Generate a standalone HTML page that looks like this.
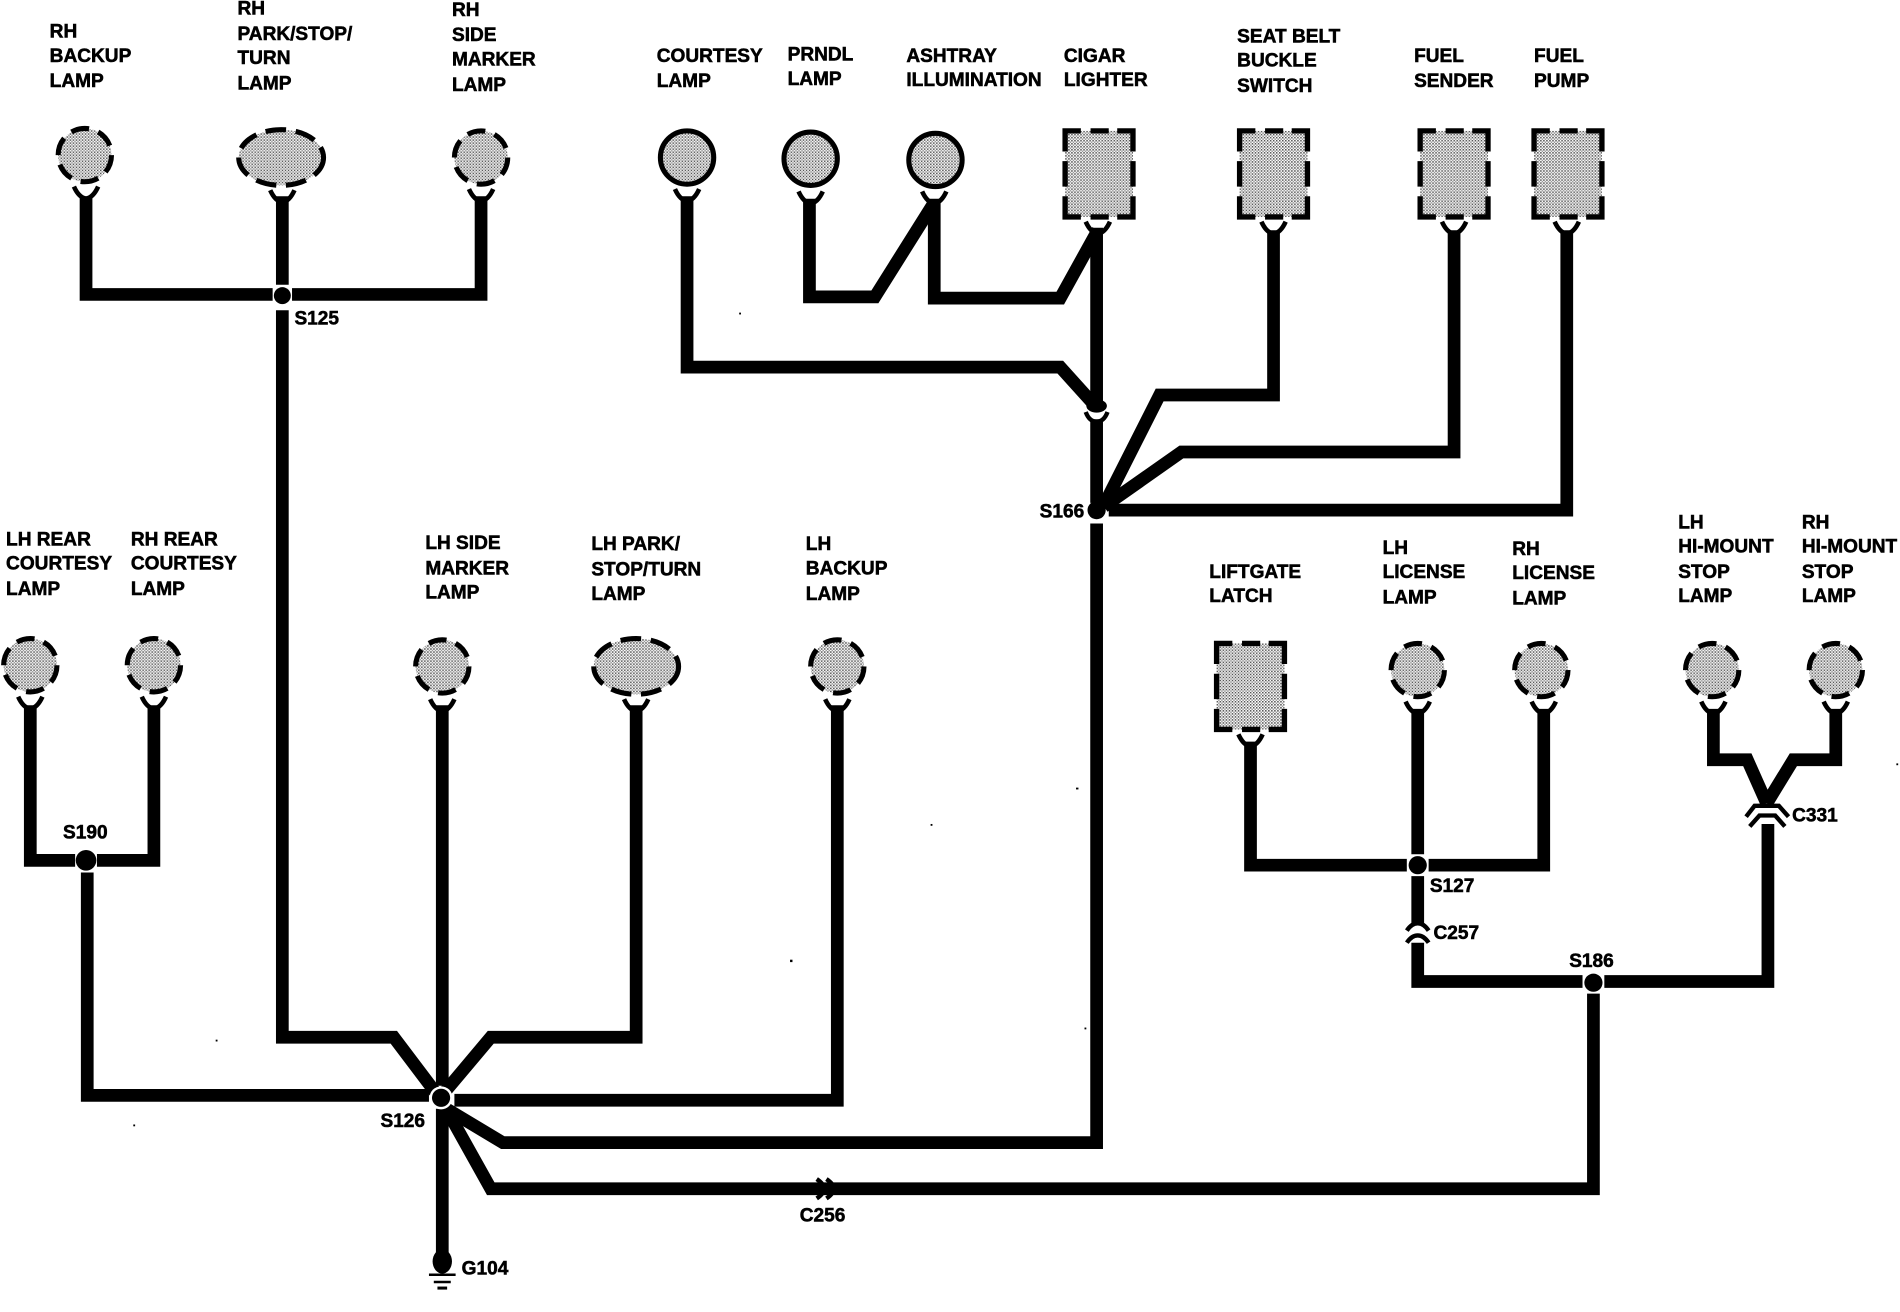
<!DOCTYPE html>
<html><head><meta charset="utf-8"><style>
html,body{margin:0;padding:0;background:#fff;width:1900px;height:1312px;overflow:hidden}
svg{display:block}
text{font-family:"Liberation Sans",sans-serif;font-weight:700;font-size:15.75px;fill:#000;stroke:#000;stroke-width:.45}
</style></head><body>
<svg xmlns="http://www.w3.org/2000/svg" width="1900" height="1312" viewBox="0 0 1568 1082.75">
<defs>
<pattern id="d" width="2.5" height="2.5" patternUnits="userSpaceOnUse">
<rect width="2.5" height="2.5" fill="#fff"/><rect width="1.25" height="1.25" fill="#555"/><rect x="1.25" y="1.25" width="1.25" height="1.25" fill="#999"/>
</pattern>
<path id="u" d="M-10,0 Q-6,9 0,10 Q6,9 10,0" fill="none" stroke="#000" stroke-width="3.8"/>
<g id="r">
<rect width="56" height="71" fill="url(#d)"/>
<path d="M0,17V0H13M21,0H36M43,0H56V17M56,25V46M56,54V71H43M36,71H21M13,71H0V54M0,46V25" fill="none" stroke="#000" stroke-width="4.4"/>
</g>
</defs>
<rect width="1568" height="1083" fill="#fff"/>

<g fill="url(#d)" stroke="#000" stroke-width="4.2" stroke-dasharray="15 8">
<circle cx="70" cy="128" r="22"/><circle cx="397" cy="130" r="22"/>
<circle cx="25" cy="549" r="22"/><circle cx="127" cy="549" r="22"/>
<circle cx="365" cy="550" r="22"/><circle cx="691" cy="550" r="22"/>
<circle cx="1170" cy="553" r="22"/><circle cx="1272" cy="553" r="22"/>
<circle cx="1413" cy="553" r="22"/><circle cx="1515" cy="553" r="22"/>
<ellipse cx="232" cy="130" rx="35" ry="23" stroke-dasharray="17 8"/><ellipse cx="525" cy="550" rx="35" ry="23" stroke-dasharray="17 8"/>
</g>
<use href="#r" x="879" y="108"/><use href="#r" x="1023" y="108"/><use href="#r" x="1172" y="108"/><use href="#r" x="1266" y="108"/><use href="#r" x="1004" y="531"/>
<g fill="url(#d)" stroke="#000" stroke-width="4.2">
<circle cx="567" cy="130" r="22"/><circle cx="669" cy="131" r="22"/><circle cx="772" cy="132" r="22"/>
</g>

<use href="#u" x="71" y="154"/><use href="#u" x="233" y="157"/><use href="#u" x="397" y="156"/>
<use href="#u" x="567" y="156"/><use href="#u" x="669" y="158"/><use href="#u" x="771" y="158"/>
<use href="#u" x="906" y="183"/><use href="#u" x="1051" y="183"/><use href="#u" x="1200" y="183"/><use href="#u" x="1293" y="183"/>
<use href="#u" x="25" y="575"/><use href="#u" x="127" y="575"/><use href="#u" x="365" y="577"/><use href="#u" x="525" y="577"/><use href="#u" x="691" y="577"/>
<use href="#u" x="1032" y="606"/><use href="#u" x="1170" y="579"/><use href="#u" x="1274" y="579"/><use href="#u" x="1414" y="579"/><use href="#u" x="1515" y="579"/>

<g fill="none" stroke="#000" stroke-width="10.5" stroke-linejoin="miter">
<path d="M71,162V243H225M241,243H397V162"/>
<path d="M233,162V235M233,256V856H325L362,905"/>
<path d="M567,162V303H875L903,334"/>
<path d="M668,164V245H722L771,167"/>
<path d="M771,164V246H875L906,190"/>
<path d="M905,188V334M905,346V415"/>
<path d="M1051,190V326H957L911,417"/>
<path d="M1200,190V373H975L911,418"/>
<path d="M1293,190V421H915"/>
<path d="M905,432V943H415L365,913"/>
<path d="M367,913L405,981H1315V820"/>
<path d="M25,582V710H62M80,710H127V582"/>
<path d="M72,720V904H354"/>
<path d="M365,582V896"/>
<path d="M525,582V856H405L368,900"/>
<path d="M691,582V908H375"/>
<path d="M365,915V1040"/>
<path d="M1032,612V714H1161M1179,714H1274V585"/>
<path d="M1170,585V705M1170,723V762M1170,778V810H1306M1324,810H1459V680"/>
<path d="M1414,585V627H1442L1458,663M1515,585V627H1480L1458,663"/>
</g>

<circle cx="233" cy="244" r="7"/>
<circle cx="905" cy="421" r="7.5"/>
<circle cx="71" cy="710" r="8.5"/>
<circle cx="364" cy="906" r="9.5" fill="#fff"/><circle cx="364" cy="906" r="7.5"/>
<circle cx="1170" cy="714" r="7.5"/>
<circle cx="1315" cy="811" r="7.5"/>

<ellipse cx="905" cy="335" rx="8.5" ry="5.5"/>
<g fill="none" stroke="#000" stroke-width="3.6">
<path d="M896,340Q899,348 905,348Q911,348 914,340"/>
<path d="M1161,768Q1165,762 1170,762Q1175,762 1179,768"/>
<path d="M1161,778Q1165,772 1170,772Q1175,772 1179,778"/>
<path d="M1441,674L1448,665H1468L1476,674"/>
<path d="M1444,682L1452,673H1465L1473,682"/>
<path d="M674,973Q680,977 680,981Q680,985 674,989"/>
<path d="M682,973Q688,977 688,981Q688,985 682,989"/>
</g>
<ellipse cx="365" cy="1041" rx="8" ry="10"/>
<g stroke="#000" stroke-width="2"><path d="M354,1052H376M358,1058H372"/><path d="M361,1063H369" stroke-width="2.5"/></g>
<g><rect x="610" y="258" width="1.5" height="1.5"/><rect x="652" y="792" width="2" height="2"/><rect x="178" y="858" width="1.5" height="1.5"/><rect x="110" y="928" width="1.5" height="1.5"/><rect x="768" y="680" width="1.5" height="1.5"/><rect x="888" y="650" width="2" height="1.5"/><rect x="1565" y="630" width="1.5" height="1.5"/><rect x="895" y="848" width="1.5" height="1.5"/></g>

<text x="41" y="31">RH</text><text x="41" y="51">BACKUP</text><text x="41" y="72">LAMP</text>
<text x="196" y="12">RH</text><text x="196" y="33">PARK/STOP/</text><text x="196" y="53">TURN</text><text x="196" y="74">LAMP</text>
<text x="373" y="13">RH</text><text x="373" y="34">SIDE</text><text x="373" y="54">MARKER</text><text x="373" y="75">LAMP</text>
<text x="542" y="51">COURTESY</text><text x="542" y="72">LAMP</text>
<text x="650" y="50">PRNDL</text><text x="650" y="70">LAMP</text>
<text x="748" y="51">ASHTRAY</text><text x="748" y="71">ILLUMINATION</text>
<text x="878" y="51">CIGAR</text><text x="878" y="71">LIGHTER</text>
<text x="1021" y="35">SEAT BELT</text><text x="1021" y="55">BUCKLE</text><text x="1021" y="76">SWITCH</text>
<text x="1167" y="51">FUEL</text><text x="1167" y="72">SENDER</text>
<text x="1266" y="51">FUEL</text><text x="1266" y="72">PUMP</text>
<text x="5" y="450">LH REAR</text><text x="5" y="470">COURTESY</text><text x="5" y="491">LAMP</text>
<text x="108" y="450">RH REAR</text><text x="108" y="470">COURTESY</text><text x="108" y="491">LAMP</text>
<text x="351" y="453">LH SIDE</text><text x="351" y="474">MARKER</text><text x="351" y="494">LAMP</text>
<text x="488" y="454">LH PARK/</text><text x="488" y="475">STOP/TURN</text><text x="488" y="495">LAMP</text>
<text x="665" y="454">LH</text><text x="665" y="474">BACKUP</text><text x="665" y="495">LAMP</text>
<text x="998" y="477">LIFTGATE</text><text x="998" y="497">LATCH</text>
<text x="1141" y="457">LH</text><text x="1141" y="477">LICENSE</text><text x="1141" y="498">LAMP</text>
<text x="1248" y="458">RH</text><text x="1248" y="478">LICENSE</text><text x="1248" y="499">LAMP</text>
<text x="1385" y="436">LH</text><text x="1385" y="456">HI-MOUNT</text><text x="1385" y="477">STOP</text><text x="1385" y="497">LAMP</text>
<text x="1487" y="436">RH</text><text x="1487" y="456">HI-MOUNT</text><text x="1487" y="477">STOP</text><text x="1487" y="497">LAMP</text>
<text x="243" y="268">S125</text><text x="858" y="427">S166</text><text x="52" y="692">S190</text>
<text x="314" y="930">S126</text><text x="1180" y="736">S127</text><text x="1183" y="775">C257</text>
<text x="1295" y="798">S186</text><text x="1479" y="678">C331</text><text x="660" y="1008">C256</text><text x="381" y="1052">G104</text>
</svg>
</body></html>
